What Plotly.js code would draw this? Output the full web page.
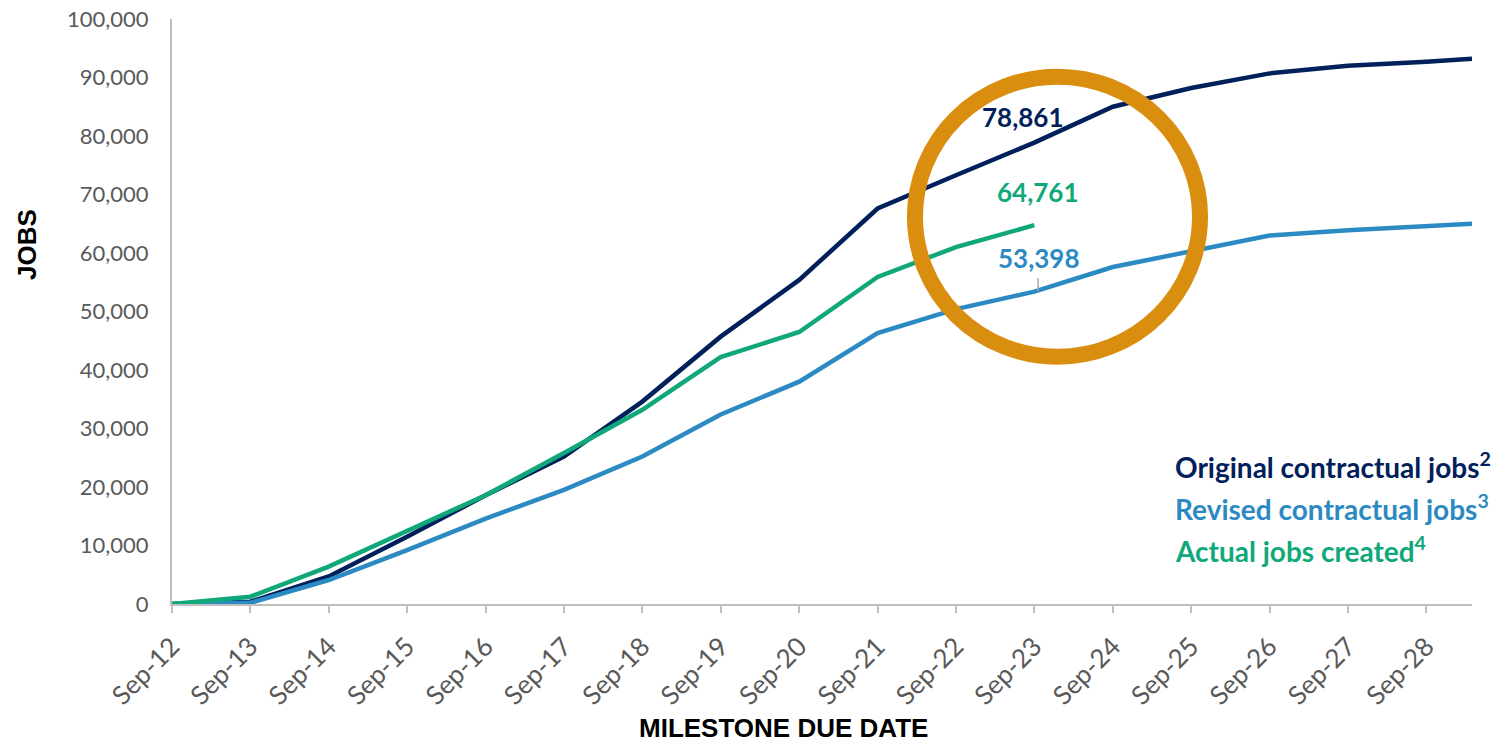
<!DOCTYPE html>
<html>
<head>
<meta charset="utf-8">
<script src="https://cdn.plot.ly/plotly-3.0.1.min.js"></script>
<style>
  html, body { margin: 0; padding: 0; background: #ffffff; }
  #chart { width: 1502px; height: 744px; }
</style>
</head>
<body>
<div id="chart"></div>
<script>
// ---- Data ----
const dates = ['2012-09-30','2013-09-30','2014-09-30','2015-09-30','2016-09-30','2017-09-30',
               '2018-09-30','2019-09-30','2020-09-30','2021-09-30','2022-09-30','2023-09-30',
               '2024-09-30','2025-09-30','2026-09-30','2027-09-30','2028-09-30','2029-04-30'];
const originalJobs = [0, 400, 4700, 11500, 18600, 25200, 34600, 45700, 55400, 67600, 73300, 78861,
                      85000, 88200, 90700, 92000, 92700, 93200];
const revisedJobs  = [0, 200, 4100, 9200, 14600, 19500, 25200, 32400, 38000, 46300, 50400, 53398,
                      57600, 60300, 63000, 63900, 64500, 65000];
const actualDates  = dates.slice(0, 12);
const actualJobs   = [0, 1250, 6400, 12400, 18600, 25800, 33200, 42200, 46500, 55900, 61000, 64761];

const tickVals  = dates.slice(0, 17);
const tickText  = ['Sep-12','Sep-13','Sep-14','Sep-15','Sep-16','Sep-17','Sep-18','Sep-19','Sep-20',
                   'Sep-21','Sep-22','Sep-23','Sep-24','Sep-25','Sep-26','Sep-27','Sep-28'];
const yTicks    = [0,10000,20000,30000,40000,50000,60000,70000,80000,90000,100000];

const seriesNames = ['Original contractual jobs', 'Revised contractual jobs', 'Actual jobs created'];
const seriesNotes = ['2', '3', '4'];
const highlightLabels = ['78,861', '64,761', '53,398'];

// ---- Styles ----
const NAVY = '#00205B', BLUE = '#2B8AC2', GREEN = '#10A87A', ORANGE = '#D98E0F';
const TICKGRAY = '#595959', AXISGRAY = '#BFBFBF';
const FONT = 'Lato, "Open Sans", "DejaVu Sans", sans-serif';
const TITLEFONT = '"Liberation Sans", Arial, sans-serif';

const traces = [
  { x: dates, y: originalJobs, type: 'scatter', mode: 'lines', name: seriesNames[0],
    line: { color: NAVY, width: 4.5 }, hoverinfo: 'x+y' },
  { x: dates, y: revisedJobs, type: 'scatter', mode: 'lines', name: seriesNames[1],
    line: { color: BLUE, width: 4.5 }, hoverinfo: 'x+y' },
  { x: actualDates, y: actualJobs, type: 'scatter', mode: 'lines', name: seriesNames[2],
    line: { color: GREEN, width: 4.5 }, hoverinfo: 'x+y' }
];

const legendColors = [NAVY, BLUE, GREEN];
const legendY = [0.2359, 0.1658, 0.094];
const annotations = [];
for (let i = 0; i < 3; i++) {
  annotations.push({
    xref: 'paper', yref: 'paper', x: 0.770, y: legendY[i], xanchor: 'left', yanchor: 'middle',
    text: '<b>' + seriesNames[i] + '<sup>' + seriesNotes[i] + '</sup></b>',
    showarrow: false, font: { family: FONT, size: 28, color: legendColors[i] }
  });
}
const labelPos = [[0.6546, 0.8325, NAVY], [0.6654, 0.7043, GREEN], [0.6662, 0.5915, BLUE]];
for (let i = 0; i < 3; i++) {
  annotations.push({
    xref: 'paper', yref: 'paper', x: labelPos[i][0], y: labelPos[i][1],
    xanchor: 'center', yanchor: 'middle', text: '<b>' + highlightLabels[i] + '</b>',
    showarrow: false, font: { family: FONT, size: 26, color: labelPos[i][2] }
  });
}
annotations.push({
  xref: 'paper', yref: 'paper', x: -0.1115, y: 0.6137, xanchor: 'center', yanchor: 'middle',
  text: '<b>JOBS</b>', textangle: -90, showarrow: false,
  font: { family: TITLEFONT, size: 26, color: '#000000' }
});
annotations.push({
  xref: 'paper', yref: 'paper', x: 0.47, y: -0.212, xanchor: 'center', yanchor: 'middle',
  text: '<b>MILESTONE DUE DATE</b>', showarrow: false,
  font: { family: TITLEFONT, size: 26, color: '#000000' }
});

const layout = {
  width: 1502, height: 744,
  margin: { l: 172, r: 30, t: 19, b: 140 },
  paper_bgcolor: '#ffffff', plot_bgcolor: '#ffffff',
  showlegend: false,
  xaxis: {
    type: 'date', range: [dates[0], dates[dates.length - 1]],
    tickmode: 'array', tickvals: tickVals, ticktext: tickText, tickangle: -45,
    ticks: 'outside', ticklen: 7, tickwidth: 2, tickcolor: AXISGRAY,
    showline: true, linecolor: AXISGRAY, linewidth: 2, showgrid: false, zeroline: false,
    ticklabelstandoff: 8,
    tickfont: { family: FONT, size: 26, color: TICKGRAY }
  },
  yaxis: {
    range: [0, 100000], tickmode: 'array', tickvals: yTicks, tickformat: ',d',
    ticks: '', showline: true, linecolor: AXISGRAY, linewidth: 2, showgrid: false, zeroline: false,
    ticklabelstandoff: 17,
    tickfont: { family: FONT, size: 22, color: TICKGRAY }
  },
  shapes: [
    { type: 'circle', xref: 'paper', yref: 'paper', x0: 0.5715, x1: 0.7908, y0: 0.4227, y1: 0.9014,
      line: { color: ORANGE, width: 16 }, fillcolor: 'rgba(0,0,0,0)', layer: 'above' },
    { type: 'line', xref: 'paper', yref: 'paper', x0: 0.6662, x1: 0.6662, y0: 0.535, y1: 0.5573,
      line: { color: '#A6A6A6', width: 1.5 } }
  ],
  annotations: annotations
};

Plotly.newPlot('chart', traces, layout, { displayModeBar: false, staticPlot: true });
</script>
</body>
</html>
